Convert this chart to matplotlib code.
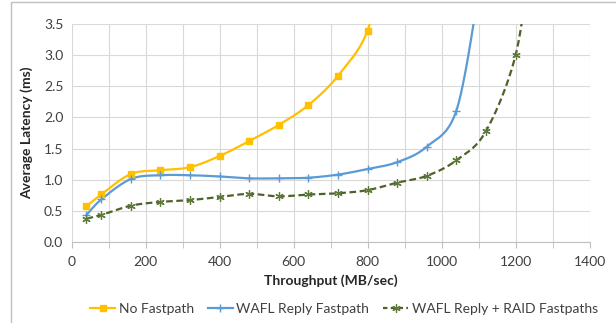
import numpy as np
import matplotlib
matplotlib.use("Agg")
import matplotlib.pyplot as plt
from matplotlib.lines import Line2D
from matplotlib.patches import Rectangle

plt.rcParams["font.family"] = ["Lato", "DejaVu Sans"]

# throughput (MB/sec) and average latency (ms); last point of each runs off the top
no_fp_x = [40, 80, 160, 240, 320, 400, 480, 560, 640, 720, 800, 840]
no_fp_y = [0.57, 0.76, 1.09, 1.15, 1.20, 1.38, 1.62, 1.88, 2.20, 2.67, 3.40, 4.6]

wafl_x = [40, 80, 160, 240, 320, 400, 480, 560, 640, 720, 800, 880, 960, 1040, 1100]
wafl_y = [0.43, 0.68, 1.01, 1.07, 1.07, 1.05, 1.02, 1.02, 1.03, 1.08, 1.17, 1.28, 1.53, 2.11, 4.0]

raid_x = [40, 80, 160, 240, 320, 400, 480, 560, 640, 720, 800, 880, 960, 1040, 1120, 1200, 1240]
raid_y = [0.37, 0.43, 0.58, 0.64, 0.67, 0.72, 0.77, 0.73, 0.76, 0.78, 0.83, 0.95, 1.06, 1.31, 1.78, 3.00, 4.6]

labels = ["No Fastpath", "WAFL Reply Fastpath", "WAFL Reply + RAID Fastpaths"]
colors = ["#FFC000", "#5B9BD5", "#4F6228"]


def smooth(xs, ys, n=30):
    # catmull-rom curve through the points, like excel's smoothed line
    p = np.column_stack([xs, ys]).astype(float)
    p = np.vstack([p[0], p, p[-1]])
    out = []
    t = np.linspace(0, 1, n)[:, None]
    for i in range(1, len(p) - 2):
        p0, p1, p2, p3 = p[i - 1], p[i], p[i + 1], p[i + 2]
        seg = 0.5 * ((2 * p1) + (-p0 + p2) * t + (2 * p0 - 5 * p1 + 4 * p2 - p3) * t ** 2
                     + (-p0 + 3 * p1 - 3 * p2 + p3) * t ** 3)
        out.append(seg)
    out = np.vstack(out)
    return out[:, 0], out[:, 1]


fig = plt.figure(figsize=(6.16, 3.23), dpi=100)
ax = fig.add_axes([0.1164, 0.2517, 0.957 - 0.1164, 0.9248 - 0.2517])

fig.patches.append(Rectangle((11 / 616, -0.05), 1.1, 1 - 2 / 323 + 0.05, transform=fig.transFigure,
                             fill=False, edgecolor="#BFBFBF", linewidth=1.0))

sx, sy = smooth(no_fp_x, no_fp_y)
ax.plot(sx, sy, color=colors[0], lw=1.6, zorder=3)
ax.plot(no_fp_x, no_fp_y, ls="none", marker="s", ms=4.5, color=colors[0], zorder=4)

sx, sy = smooth(wafl_x, wafl_y)
ax.plot(sx, sy, color=colors[1], lw=1.6, zorder=3)
ax.plot(wafl_x, wafl_y, ls="none", marker="+", ms=6, mew=1.0, color=colors[1], zorder=4)

sx, sy = smooth(raid_x, raid_y)
ax.plot(sx, sy, color=colors[2], lw=1.6, ls=(0, (3, 1.6)), zorder=3)
ax.plot(raid_x, raid_y, ls="none", marker=(6, 2, 0), ms=6, mew=0.9, color="#5E7A3A", zorder=4)

ax.set_xlim(0, 1400)
ax.set_ylim(0, 3.5)
ax.set_xticks(np.arange(0, 1401, 200))
ax.set_xticks(np.arange(0, 1401, 100), minor=True)
ax.set_yticks(np.arange(0, 3.51, 0.5))
ax.yaxis.set_major_formatter(matplotlib.ticker.FormatStrFormatter("%.1f"))
ax.grid(True, which="both", axis="x", color="#D9D9D9", lw=0.8)
ax.grid(True, which="major", axis="y", color="#D9D9D9", lw=0.8)
ax.set_axisbelow(True)
for s in ["left", "right", "top"]:
    ax.spines[s].set_visible(False)
ax.spines["bottom"].set_color("#BFBFBF")
ax.tick_params(axis="y", length=0, labelsize=10, pad=6, colors="#404040")
ax.tick_params(axis="x", which="both", length=4, color="#BFBFBF", labelsize=10, pad=6, labelcolor="#404040")
ax.tick_params(axis="x", which="minor", labelbottom=False)

ax.set_xlabel("Throughput (MB/sec)", fontsize=10, fontweight="bold", labelpad=5, color="#262626")
ax.set_ylabel("Average Latency (ms)", fontsize=10, fontweight="bold", labelpad=8, color="#262626")

handles = [
    Line2D([], [], color=colors[0], lw=1.6, marker="s", ms=4.5),
    Line2D([], [], color=colors[1], lw=1.6, marker="+", ms=6, mew=1.0),
    Line2D([], [], color=colors[2], lw=1.6, ls=(0, (2, 1.5)), marker=(6, 2, 0), ms=6, mew=0.9,
           mec="#5E7A3A"),
]
fig.legend(handles, labels, loc="center", bbox_to_anchor=(344 / 616, 1 - 309 / 323), ncol=3,
           frameon=False, fontsize=10, handlelength=1.8, handletextpad=0.25, columnspacing=1.0,
           labelcolor="#404040")

fig.savefig("out.png", dpi=100)
